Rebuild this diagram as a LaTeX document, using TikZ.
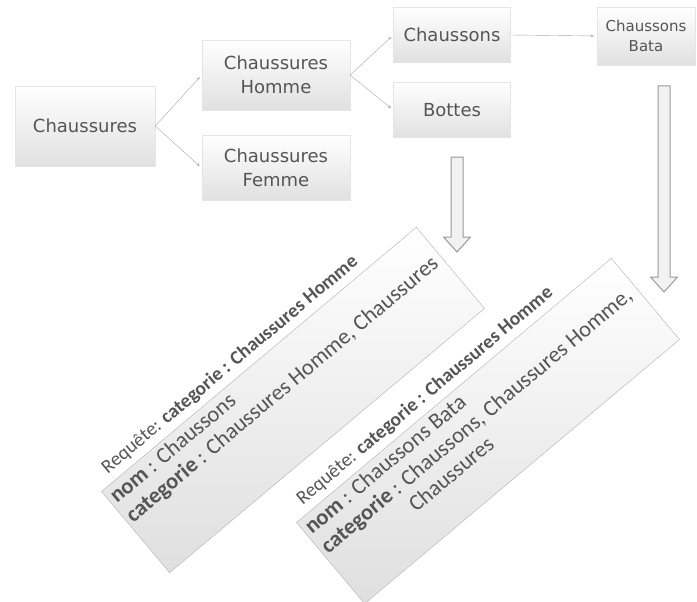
\documentclass[tikz,border=0pt]{standalone}
\usepackage{fontspec}
\setmainfont{Carlito}
\newfontfamily\boxfont{DejaVu Sans}
\usetikzlibrary{calc}
\definecolor{BoxText}{HTML}{555555}
\definecolor{LinkGray}{HTML}{A8A8A8}
\definecolor{ArrowFill}{HTML}{F2F2F2}
\definecolor{ArrowLine}{HTML}{9A9A9A}

\tikzset{
  catbox/.style={draw=gray!20, top color=white, bottom color=gray!24, text=BoxText,
    font=\boxfont\fontsize{18}{24}\selectfont, align=center, inner sep=2pt},
  link/.style={->, >=stealth, draw=LinkGray, thin, shorten >=3pt},
  querybox/.style={draw=gray!60, top color=white, bottom color=gray!25, rotate=40,
    minimum width=411, minimum height=106},
  querytext/.style={text=BoxText, font=\fontsize{22.5}{25}\selectfont, transform shape, inner sep=4pt},
  queryhead/.style={querytext, font=\fontsize{19.5}{22}\selectfont},
  blockarrow/.style={draw=ArrowLine, fill=ArrowFill, line width=1pt}
}

% hollow down arrow from #1 to the tip #2
\newcommand\bigarrow[2]{%
  \draw[blockarrow] let \p1=(#1), \p2=(#2) in
    (\x1-6pt,\y1) -- (\x1-6pt,\y2+15pt) -- (\x1-13.5pt,\y2+15pt) -- (\x2,\y2)
    -- (\x1+13.5pt,\y2+15pt) -- (\x1+6pt,\y2+15pt) -- (\x1+6pt,\y1) -- cycle;}

\begin{document}
\begin{tikzpicture}[x=1pt, y=-1pt]
  \useasboundingbox (0,0) rectangle (697,602);

  % category tree
  \node [catbox, minimum width=140, minimum height=80] (chaussures) at (85,126) {Chaussures};
  \node [catbox, minimum width=148, minimum height=70] (homme) at (276,75) {Chaussures\\Homme};
  \node [catbox, minimum width=148, minimum height=65] (femme) at (276,168) {Chaussures\\Femme};
  \node [catbox, minimum width=117, minimum height=55] (chaussons) at (452,35) {Chaussons};
  \node [catbox, minimum width=117, minimum height=55] (bottes) at (452,110) {Bottes};
  \node [catbox, minimum width=98, minimum height=58, font=\boxfont\fontsize{15}{20}\selectfont] (bata) at (646,36) {Chaussons\\Bata};

  \draw [link] (chaussures.east) -- (homme.west);
  \draw [link] (chaussures.east) -- (femme.west);
  \draw [link] (homme.east) -- (chaussons.west);
  \draw [link] (homme.east) -- (bottes.west);
  \draw [link] (chaussons.east) -- (bata.west);

  % query results
  \node [querybox] (q1) at (293,400) {};
  \node [querybox] (q2) at (488,431) {};

  \coordinate (a1s) at (457,157);
  \coordinate (a1e) at (457,252);
  \coordinate (a2s) at (664,86);
  \coordinate (a2e) at (664,292);
  \bigarrow{a1s}{a1e}
  \bigarrow{a2s}{a2e}

  \begin{scope}[shift={(q1.north west)}, rotate=40]
    \node [queryhead, anchor=base west] (h1) at (12,-9) {Requête: \textbf{categorie : Chaussures Homme}};
    \node [querytext, anchor=north west, align=left] (t1) at (0,0)
      {\textbf{nom} : Chaussons\\\textbf{categorie} : Chaussures Homme, Chaussures};
  \end{scope}
  \begin{scope}[shift={(q2.north west)}, rotate=40]
    \node [queryhead, anchor=base west] (h2) at (12,-9) {Requête: \textbf{categorie : Chaussures Homme}};
    \node [querytext, anchor=north west, align=left] (t2) at (0,0)
      {\textbf{nom} : Chaussons Bata\\\textbf{categorie} : Chaussons, Chaussures Homme,\\\hspace*{94pt}Chaussures};
  \end{scope}
\end{tikzpicture}
\end{document}
